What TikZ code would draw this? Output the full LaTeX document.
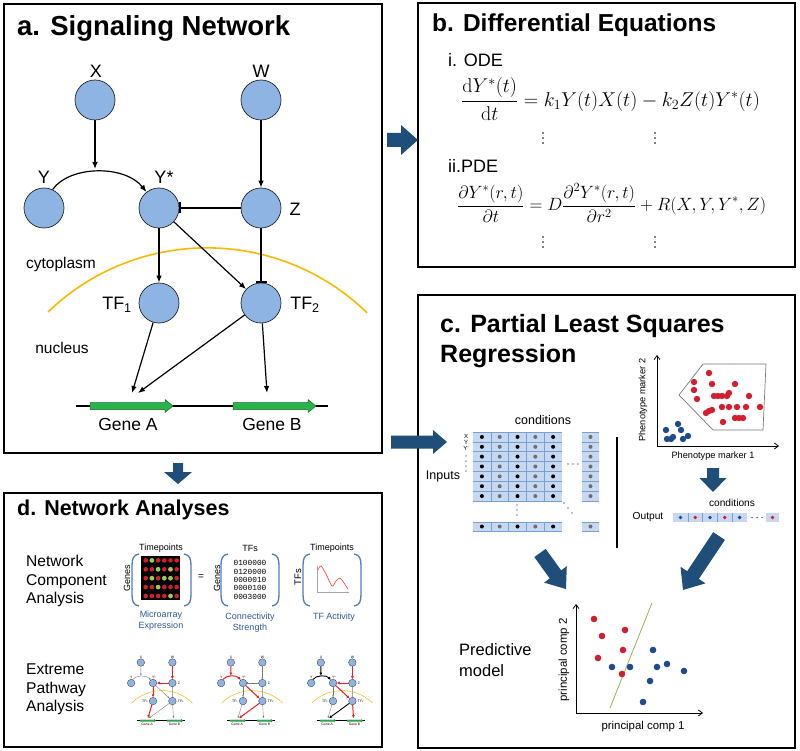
\RequirePackage{fix-cm}
\documentclass[tikz,border=0pt]{standalone}
\usepackage[no-math]{fontspec}
\setmainfont{Liberation Sans}
\newfontfamily\monof{Liberation Mono}
\usetikzlibrary{arrows.meta}
\definecolor{nodeblue}{RGB}{141,180,226}
\definecolor{orangearc}{RGB}{250,185,0}
\definecolor{genegreen}{RGB}{40,180,75}
\definecolor{genedark}{RGB}{20,110,40}
\definecolor{arrowblue}{RGB}{31,78,121}
\definecolor{cellblue}{RGB}{198,217,241}
\definecolor{cellline}{RGB}{120,160,210}
\definecolor{dotred}{RGB}{210,30,45}
\definecolor{dotblue}{RGB}{30,75,140}
\definecolor{dotgray}{RGB}{110,110,110}
\definecolor{brblue}{RGB}{80,125,185}
\definecolor{txtblue}{RGB}{45,90,155}
\definecolor{hlred}{RGB}{235,30,35}
\definecolor{mgray}{RGB}{120,120,120}
\definecolor{lgreen}{RGB}{150,210,80}
\definecolor{olive}{RGB}{155,175,80}
\newcommand{\fs}[1]{\fontsize{#1}{#1}\selectfont}
\newcommand{\barrow}[7]{\fill[arrowblue,shift={(#1,#2)},rotate=#3] (0,-#5) -- ({#4-#7},-#5) -- ({#4-#7},-#6) -- (#4,0) -- ({#4-#7},#6) -- ({#4-#7},#5) -- (0,#5) -- cycle;}
\newcommand{\gene}[3]{\filldraw[fill=genegreen,draw=genedark,genew] (#1,{#3-3.5}) -- ({#2-8},{#3-3.5}) -- ({#2-8},{#3-6.5}) -- (#2,#3) -- ({#2-8},{#3+6.5}) -- ({#2-8},{#3+3.5}) -- (#1,{#3+3.5}) -- cycle;}
\newcommand{\lbr}[3]{\draw[brblue,line width=1.3pt] ({#1+7},#2) .. controls ({#1+1},{#2+1}) and (#1,{#2+5}) .. (#1,{#2+12}) -- (#1,{#3-12}) .. controls (#1,{#3-5}) and ({#1+1},{#3-1}) .. ({#1+7},#3);}
\newcommand{\rbr}[3]{\draw[brblue,line width=1.3pt] ({#1-7},#2) .. controls ({#1-1},{#2+1}) and (#1,{#2+5}) .. (#1,{#2+12}) -- (#1,{#3-12}) .. controls (#1,{#3-5}) and ({#1-1},{#3-1}) .. ({#1-7},#3);}
\newcommand{\vdts}[2]{\foreach \dy in {-5,0,5} \fill (#1,{#2+\dy}) circle[radius=0.95pt];}
\newcommand{\sigNet}[1]{%
 \draw[orangearc,arcw] (48,312) arc[start angle=-133.9,end angle=-45.8,radius=229.5];
 \draw[dnaw] (76,406) -- (328,406);
 \gene{90}{173}{406}\gene{233}{316}{406}
 \node[txt,font=\fs{17.5}] (#1gA) at (128,424) {Gene A};
 \node[txt,font=\fs{17.5}] (#1gB) at (272,424) {Gene B};
 \node[cnode] (#1X) at (95,100) {};
 \node[cnode] (#1W) at (261,100) {};
 \node[cnode] (#1Y) at (44,208) {};
 \node[cnode] (#1S) at (159,208) {};
 \node[cnode] (#1Z) at (261,208) {};
 \node[cnode] (#1T1) at (159,303) {};
 \node[cnode] (#1T2) at (261,303) {};
 \node[nlab] (#1lX) at (96,71) {X};
 \node[nlab] (#1lW) at (261,71) {W};
 \node[nlab] (#1lY) at (44,177) {Y};
 \node[nlab] (#1lS) at (164,177) {Y*};
 \node[nlab] (#1lZ) at (295,209) {Z};
 \node[nlab] (#1lT1) at (117,305) {TF\textsubscript{1}};
 \node[nlab] (#1lT2) at (305,305) {TF\textsubscript{2}};
 \coordinate (#1cX) at (95,169);
 \coordinate (#1cA1) at (132,393);
 \coordinate (#1cA2) at (138,393);
 \coordinate (#1cB) at (267,393);
 \draw[eX] (#1X) -- (#1cX);
 \draw[eY] (#1Y.65) .. controls (70,165) and (125,165) .. (#1S.128);
 \draw[eW] (#1W) -- (#1Z);
 \draw[eZY] (#1Z) -- (#1S);
 \draw[eY1] (#1S) -- (#1T1);
 \draw[eY2] (#1S) -- (#1T2);
 \draw[eZ2] (#1Z) -- (#1T2);
 \draw[e1A] (#1T1) -- (#1cA1);
 \draw[e2A] (#1T2) -- (#1cA2);
 \draw[e2B] (#1T2) -- (#1cB);
}
\begin{document}
\begin{tikzpicture}[x=1pt,y=-1pt,
  panel/.style={draw=black,line width=2.8pt},
  ttl/.style={anchor=base west,inner sep=0pt,font=\bfseries\fs{25}},
  nb/.style={line width=0.7pt},
  arcw/.style={line width=1.6pt},
  dnaw/.style={line width=1.2pt},
  genew/.style={line width=0.5pt},
  cnode/.style={circle,draw=black!85,nb,fill=nodeblue,minimum size=40pt,inner sep=0pt},
  nlab/.style={inner sep=0pt,font=\fs{18}},
  txt/.style={inner sep=0pt},
  mainE/.style={line width=1.2pt,-{Latex[length=7pt,width=5.5pt]}},
  mainI/.style={line width=1.2pt,-{Bar[width=11pt,line width=1.4pt]}},
  mG/.style={line width=0.35pt,draw=mgray,-{Latex[length=2pt,width=1.8pt]}},
  mGI/.style={line width=0.35pt,draw=mgray,-{Bar[width=2.6pt,line width=0.4pt]}},
  mR/.style={line width=1pt,draw=hlred,-{Latex[length=3pt,width=3pt]}},
  mB/.style={line width=0.9pt,draw=black,-{Latex[length=3pt,width=3pt]}},
  eX/.style=mainE,eY/.style=mainE,eW/.style=mainE,eZY/.style=mainI,eY1/.style=mainE,
  eY2/.style=mainE,eZ2/.style=mainI,e1A/.style=mainE,e2A/.style=mainE,e2B/.style=mainE]
\useasboundingbox (0,0) rectangle (800,751);
\fill[white] (0,0) rectangle (800,751);
% panels
\draw[panel] (4,4) rectangle (382,453);
\draw[panel] (418,3) rectangle (795,267);
\draw[panel] (418,295) rectangle (795,748);
\draw[panel] (4,493) rectangle (382,747);
\node[ttl,font=\bfseries\fs{27.5}] (ta) at (17,36) {a. Signaling Network};
\node[ttl,font=\bfseries\fs{24.5}] (tb) at (432,32) {b. Differential Equations};
\node[ttl] (tc1) at (440,332) {c. Partial Least Squares};
\node[ttl] (tc2) at (440,362) {Regression};
\node[ttl,font=\bfseries\fs{21.5}] (td) at (17,515) {d. Network Analyses};
% ---- panel a
\sigNet{m}
\node[txt,font=\fs{15.5}] (cyto) at (61,264) {cytoplasm};
\node[txt,font=\fs{15.5}] (nucl) at (62,348) {nucleus};
% ---- panel b
\node[txt,anchor=west,font=\fs{18}] (ode) at (448,60) {i. ODE};
\node[txt,anchor=west,font=\fs{18}] (pde) at (448,166) {ii.PDE};
\node[txt,anchor=west,font=\fs{20}] (eq1) at (461,99) {$\displaystyle\frac{\mathrm{d}Y^*(t)}{\mathrm{d}t}=k_1Y(t)X(t)-k_2Z(t)Y^*(t)$};
\node[txt,anchor=west,font=\fs{17.8}] (eq2) at (457,203) {$\displaystyle\frac{\partial Y^*(r,t)}{\partial t}=D\frac{\partial^2Y^*(r,t)}{\partial r^2}+R(X,Y,Y^*,Z)$};
\vdts{543}{138}\vdts{655}{138}\vdts{543}{242}\vdts{655}{242}
% ---- panel c : inputs matrix
\fill[cellblue] (473,432) rectangle (562,501);
\fill[cellblue] (582,432) rectangle (599,501);
\fill[cellblue] (473,522) rectangle (562,531);
\fill[cellblue] (582,522) rectangle (599,531);
\foreach \i in {0,...,7} {\draw[cellline,line width=0.6pt] (473,{432+\i*9.857}) -- (562,{432+\i*9.857});
  \draw[cellline,line width=0.6pt] (582,{432+\i*9.857}) -- (599,{432+\i*9.857});}
\foreach \j in {1,...,4} {\draw[cellline,line width=0.6pt] ({473+\j*17.8},432) -- ({473+\j*17.8},501);
  \draw[cellline,line width=0.6pt] ({473+\j*17.8},522) -- ({473+\j*17.8},531);}
\draw[cellline,line width=0.6pt] (473,522) -- (562,522) (473,531) -- (562,531) (582,522) -- (599,522) (582,531) -- (599,531);
\foreach \i in {0,...,6} {
  \foreach \j/\dcol in {0/black,1/dotgray,2/black,3/dotgray,4/black}
    \fill[\dcol] ({481.9+\j*17.8},{436.93+\i*9.857}) circle[radius=2pt];
  \fill[dotgray] (590.5,{436.93+\i*9.857}) circle[radius=2pt];}
\foreach \j/\dcol in {0/black,1/dotgray,2/black,3/dotgray,4/black}
  \fill[\dcol] ({481.9+\j*17.8},526.5) circle[radius=2pt];
\fill[dotgray] (590.5,526.5) circle[radius=2pt];
\foreach \x in {568,573,578} \fill (\x,464) circle[radius=0.7pt];
\foreach \y in {505,510,515} \fill (517,\y) circle[radius=0.7pt];
\foreach \x/\y in {564/503,568/508,572/513} \fill (\x,\y) circle[radius=0.7pt];
\foreach \y in {456,461,466,471} \fill (466,\y) circle[radius=0.6pt];
\node[txt,font=\fs{6}] (rX) at (466,436) {X};
\node[txt,font=\fs{6}] (rY) at (466,442) {Y};
\node[txt,font=\fs{6}] (rYp) at (466,448) {Y'};
\node[txt,font=\fs{12.5}] (cond1) at (543,420) {conditions};
\node[txt,font=\fs{12.5}] (inp) at (443,476) {Inputs};
\draw[line width=1.3pt] (617,437) -- (617,548);
% phenotype scatter
\draw[mgray,line width=0.7pt] (703,364) -- (766,364) -- (763,430) -- (713,430) -- (679,395) -- cycle;
\draw[line width=0.8pt,-{Straight Barb[length=4pt,width=6pt]}] (657,446) -- (657,355);
\draw[line width=0.8pt,-{Straight Barb[length=4pt,width=6pt]}] (657,446) -- (779,446);
\foreach \x/\y in {709/373,694/382,712/384,735/384,694/390,697/399,714/396,718/396,722/396,727/396,729/393,749/396,722/407,729/407,737/407,746/407,760/407,706/413,709/411,712/410,723/422,735/418,739/418,743/418}
  \fill[dotred] (\x,\y) circle[radius=3.2pt];
\foreach \x/\y in {666/430,678/424,681/430,667/439,671/439,673/437,683/439,688/436}
  \fill[dotblue] (\x,\y) circle[radius=3.2pt];
\node[txt,font=\fs{9.2}] (pm1) at (713,456) {Phenotype marker 1};
\node[txt,font=\fs{9.2},rotate=90] (pm2) at (643,400) {Phenotype marker 2};
% output row
\fill[cellblue] (673,513) rectangle (747,522);
\fill[cellblue] (766,513) rectangle (779,522);
\foreach \j in {1,...,4} \draw[cellline,line width=0.6pt] ({673+\j*14.8},513) -- ({673+\j*14.8},522);
\foreach \j/\dcol in {0/dotblue,1/dotred,2/dotblue,3/dotred,4/dotblue}
  \fill[\dcol] ({680.4+\j*14.8},517.5) circle[radius=1.9pt];
\fill[dotred] (772.5,517.5) circle[radius=1.9pt];
\foreach \x in {752,757,762} \fill (\x,517.5) circle[radius=0.7pt];
\node[txt,font=\fs{10.2}] (cond2) at (732,503) {conditions};
\node[txt,font=\fs{10.2}] (outp) at (648,517) {Output};
% predictive model
\node[txt,anchor=west,font=\fs{16.5}] (pred1) at (459,650) {Predictive};
\node[txt,anchor=west,font=\fs{16.5}] (pred2) at (459,671) {model};
\draw[olive,line width=0.8pt] (610,708) -- (652,603);
\draw[line width=0.8pt,-{Straight Barb[length=4pt,width=6pt]}] (576,713) -- (576,604);
\draw[line width=0.8pt,-{Straight Barb[length=4pt,width=6pt]}] (576,713) -- (703,713);
\foreach \x/\y in {594/619,625/630,602/636,623/650,598/658,622/674}
  \fill[dotred] (\x,\y) circle[radius=3.3pt];
\foreach \x/\y in {653/650,612/667,630/667,657/667,667/664,684/671,650/681,643/702}
  \fill[dotblue] (\x,\y) circle[radius=3.3pt];
\node[txt,font=\fs{11.4}] (pc1) at (643,727) {principal comp 1};
\node[txt,font=\fs{11.4},rotate=90] (pc2) at (564,660) {principal comp 2};
% ---- panel d
\node[txt,anchor=base west,font=\fs{15.6}] (n1) at (26,566) {Network};
\node[txt,anchor=base west,font=\fs{15.6}] (n2) at (26,585) {Component};
\node[txt,anchor=base west,font=\fs{15.6}] (n3) at (26,603) {Analysis};
\node[txt,anchor=base west,font=\fs{15.6}] (x1) at (26,674) {Extreme};
\node[txt,anchor=base west,font=\fs{15.6}] (x2) at (26,693) {Pathway};
\node[txt,anchor=base west,font=\fs{15.6}] (x3) at (26,711) {Analysis};
% microarray
\fill[black] (141,556) rectangle (180,600);
\foreach \c in {1,...,6} \foreach \r in {1,...,5}
  \fill[dotred] ({139.5+\c*6.2},{551.5+\r*8.9}) circle[radius=2.3pt];
\foreach \c/\r in {2/1,3/2,5/2,2/3,4/3,5/3,3/4,5/5}
  \fill[lgreen] ({139.5+\c*6.2},{551.5+\r*8.9}) circle[radius=2.3pt];
\lbr{132}{554}{606}\rbr{191}{554}{606}
\lbr{221}{554}{606}\rbr{279}{554}{606}
\lbr{303}{554}{606}\rbr{361}{554}{606}
\node[txt,font=\fs{9}] (tp1) at (161,548) {Timepoints};
\node[txt,font=\fs{9}] (tfs1) at (250,548) {TFs};
\node[txt,font=\fs{9}] (tp2) at (332,548) {Timepoints};
\node[txt,font=\fs{9},rotate=90] (gn1) at (127,578) {Genes};
\node[txt,font=\fs{9},rotate=90] (gn2) at (217,578) {Genes};
\node[txt,font=\fs{9.5},rotate=90] (tfs2) at (298,577) {TFs};
\node[txt,font=\fs{10}] (eqs) at (201,577) {=};
\foreach \s/\y in {0100000/563,0120000/572,0000010/580,0000100/588,0003000/597}
  \node[txt,font=\monof\fs{7.8}] at (250,\y) {\s};
\node[txt,font=\fs{9},text=txtblue] (ma1) at (161,615) {Microarray};
\node[txt,font=\fs{9},text=txtblue] (ma2) at (161,626) {Expression};
\node[txt,font=\fs{9},text=txtblue] (cs1) at (250,617) {Connectivity};
\node[txt,font=\fs{9},text=txtblue] (cs2) at (250,628) {Strength};
\node[txt,font=\fs{9},text=txtblue] (tfa) at (334,617) {TF Activity};
\draw[gray!70,line width=0.6pt] (317,566) -- (317,592) -- (349,592);
\draw[red!80!white,line width=0.6pt] plot[smooth] coordinates {(318,570) (321,566) (326,574) (332,586) (336,581) (340,578) (344,583) (348,589)};
% extreme pathways
\begin{scope}[shift={(122.8,643.5)},scale=0.19,transform shape]
\tikzset{nb/.style={line width=0.25pt},arcw/.style={line width=0.5pt},dnaw/.style={line width=0.35pt},genew/.style={line width=0.15pt},
 eX/.style=mG,eY/.style=mG,eW/.style=mR,eZY/.style=mR,eY1/.style=mR,eY2/.style=mG,eZ2/.style=mGI,e1A/.style=mR,e2A/.style=mG,e2B/.style=mG}
\sigNet{p}
\end{scope}
\begin{scope}[shift={(212.8,643.5)},scale=0.19,transform shape]
\tikzset{nb/.style={line width=0.25pt},arcw/.style={line width=0.5pt},dnaw/.style={line width=0.35pt},genew/.style={line width=0.15pt},
 eX/.style=mR,eY/.style=mR,eW/.style=mG,eZY/.style=mGI,eY1/.style=mG,eY2/.style=mR,eZ2/.style=mGI,e1A/.style=mG,e2A/.style=mR,e2B/.style=mG}
\sigNet{q}
\end{scope}
\begin{scope}[shift={(302.8,643.5)},scale=0.19,transform shape]
\tikzset{nb/.style={line width=0.25pt},arcw/.style={line width=0.5pt},dnaw/.style={line width=0.35pt},genew/.style={line width=0.15pt},
 eX/.style=mB,eY/.style=mB,eW/.style=mR,eZY/.style=mR,eY1/.style=mG,eY2/.style=mR,eZ2/.style=mGI,e1A/.style=mG,e2A/.style=mB,e2B/.style=mR}
\sigNet{r}
\end{scope}
% ---- block arrows
\barrow{387}{140}{0}{31}{7}{15}{17}
\barrow{178}{463}{-90}{21}{5}{14}{12}
\barrow{391}{442}{0}{56}{6.5}{12}{14}
\barrow{713}{468}{-90}{24}{6}{13.5}{14}
\barrow{540}{553}{-54.2}{44.4}{7}{14}{18}
\barrow{719}{536}{-123.7}{64.9}{7}{15}{18}
\end{tikzpicture}
\end{document}
